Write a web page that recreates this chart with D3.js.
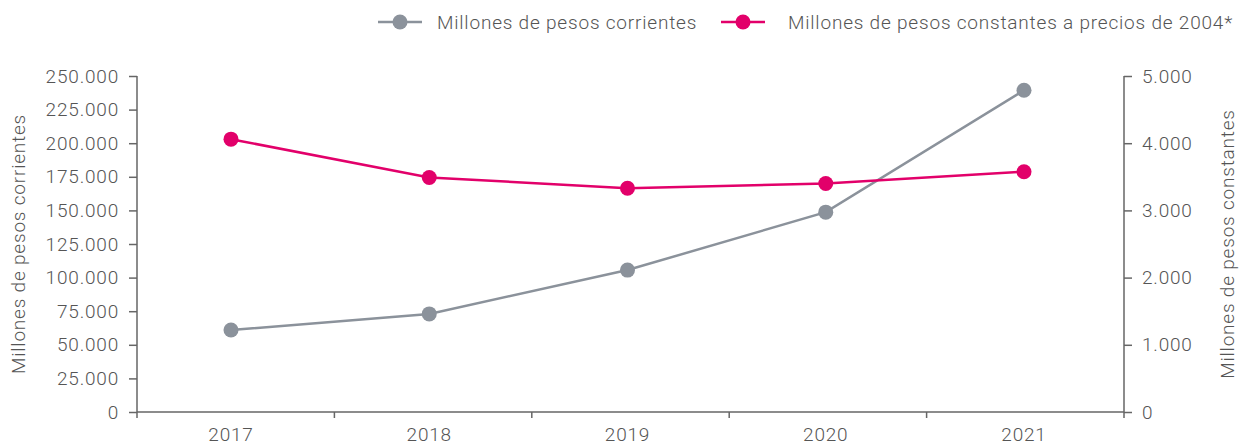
<!DOCTYPE html>
<html>
<head>
<meta charset="utf-8">
<script src="https://cdn.jsdelivr.net/npm/d3@7"></script>
<style>
  body { margin: 0; background: #fff; }
  text { font-family: Roboto, sans-serif; font-weight: 300; fill: #555; letter-spacing: 0.8px; }
</style>
</head>
<body>
<div id="chart"></div>
<script>
// data
var years = ["2017", "2018", "2019", "2020", "2021"];
var corrientes = [61000, 73000, 105600, 148700, 239400];   // left axis
var constantes = [4060, 3490, 3330, 3400, 3575];           // right axis
var leftTicks = [0, 25000, 50000, 75000, 100000, 125000, 150000, 175000, 200000, 225000, 250000];
var rightTicks = [0, 1000, 2000, 3000, 4000, 5000];
var seriesNames = ["Millones de pesos corrientes", "Millones de pesos constantes a precios de 2004*"];

var grey = "#8b929b";
var pink = "#e2006a";
var axisColor = "#666";
var fontSize = "19px";

var svgWidth = 1241, svgHeight = 445;
var margin = { top: 76, right: 117, bottom: 33, left: 137 };
var width = svgWidth - margin.left - margin.right;
var height = svgHeight - margin.top - margin.bottom;

var svg = d3.select("#chart").append("svg")
  .attr("width", svgWidth)
  .attr("height", svgHeight);

var chartGroup = svg.append("g")
  .attr("transform", `translate(${margin.left}, ${margin.top})`);

// dot-style number format (250.000)
var fmt = function(d) { return d3.format(",")(d).replace(/,/g, "."); };

// scales
var xBand = d3.scaleBand().domain(years).range([0, width]);
var xPoint = d3.scalePoint().domain(years).range([94, width - 100]);
var yLeft = d3.scaleLinear().domain([0, 250000]).range([height, 0]);
var yRight = d3.scaleLinear().domain([0, 5000]).range([height, 0]);

// x axis: ticks at band edges, labels at point positions
var xAxis = chartGroup.append("g").attr("transform", `translate(0, ${height})`);
xAxis.append("line").attr("x1", 0).attr("x2", width).attr("stroke", axisColor).attr("stroke-width", 1.5);
xAxis.selectAll(".xt").data(years.slice(1)).enter().append("line")
  .attr("x1", d => xBand(d)).attr("x2", d => xBand(d))
  .attr("y1", 0).attr("y2", 6)
  .attr("stroke", axisColor).attr("stroke-width", 1.5);
xAxis.selectAll(".xl").data(years).enter().append("text")
  .attr("x", d => xPoint(d)).attr("y", 29)
  .attr("text-anchor", "middle")
  .style("font-size", fontSize)
  .text(d => d);

// left axis
var leftAxis = d3.axisLeft(yLeft).tickValues(leftTicks).tickFormat(fmt).tickSize(8).tickPadding(10).tickSizeOuter(0);
var lAxis = chartGroup.append("g").call(leftAxis);
lAxis.select(".domain").attr("stroke", axisColor).attr("stroke-width", 1.5).attr("d", `M0,0V${height + 6}`);
lAxis.selectAll(".tick line").attr("stroke", axisColor).attr("stroke-width", 1.5);
lAxis.selectAll(".tick text").style("font-size", fontSize).style("font-family", "Roboto, sans-serif").attr("fill", "#555");

// right axis
var rightAxis = d3.axisRight(yRight).tickValues(rightTicks).tickFormat(fmt).tickSize(8).tickPadding(10).tickSizeOuter(0);
var rAxis = chartGroup.append("g").attr("transform", `translate(${width}, 0)`).call(rightAxis);
rAxis.select(".domain").attr("stroke", axisColor).attr("stroke-width", 1.5).attr("d", `M0,0V${height + 6}`);
rAxis.selectAll(".tick line").attr("stroke", axisColor).attr("stroke-width", 1.5);
rAxis.selectAll(".tick text").style("font-size", fontSize).style("font-family", "Roboto, sans-serif").attr("fill", "#555");

// axis titles
chartGroup.append("text")
  .attr("transform", "rotate(-90)")
  .attr("x", 0 - height / 2).attr("y", 25 - margin.left)
  .attr("text-anchor", "middle")
  .style("font-size", fontSize)
  .text("Millones de pesos corrientes");

chartGroup.append("text")
  .attr("transform", "rotate(-90)")
  .attr("x", 0 - height / 2).attr("y", width + 110)
  .attr("text-anchor", "middle")
  .style("font-size", fontSize)
  .text("Millones de pesos constantes");

// lines
var lineLeft = d3.line().x((d, i) => xPoint(years[i])).y(d => yLeft(d));
var lineRight = d3.line().x((d, i) => xPoint(years[i])).y(d => yRight(d));

chartGroup.append("path").datum(corrientes)
  .attr("d", lineLeft).attr("fill", "none").attr("stroke", grey).attr("stroke-width", 2.5);
chartGroup.append("path").datum(constantes)
  .attr("d", lineRight).attr("fill", "none").attr("stroke", pink).attr("stroke-width", 2.5);

chartGroup.selectAll(".dotL").data(corrientes).enter().append("circle")
  .attr("cx", (d, i) => xPoint(years[i])).attr("cy", d => yLeft(d))
  .attr("r", 7.5).attr("fill", grey);
chartGroup.selectAll(".dotR").data(constantes).enter().append("circle")
  .attr("cx", (d, i) => xPoint(years[i])).attr("cy", d => yRight(d))
  .attr("r", 7.5).attr("fill", pink);

// legend
var legend = svg.append("g").attr("transform", "translate(0, 22)");
var legendItems = [
  { name: seriesNames[0], color: grey, x: 378, tx: 437 },
  { name: seriesNames[1], color: pink, x: 721, tx: 788 }
];
legendItems.forEach(function(item) {
  legend.append("line").attr("x1", item.x).attr("x2", item.x + 44)
    .attr("stroke", item.color).attr("stroke-width", 2.5);
  legend.append("circle").attr("cx", item.x + 22).attr("r", 7.5).attr("fill", item.color);
  legend.append("text").attr("x", item.tx).attr("dy", "0.35em")
    .style("font-size", fontSize).text(item.name);
});
</script>
</body>
</html>
